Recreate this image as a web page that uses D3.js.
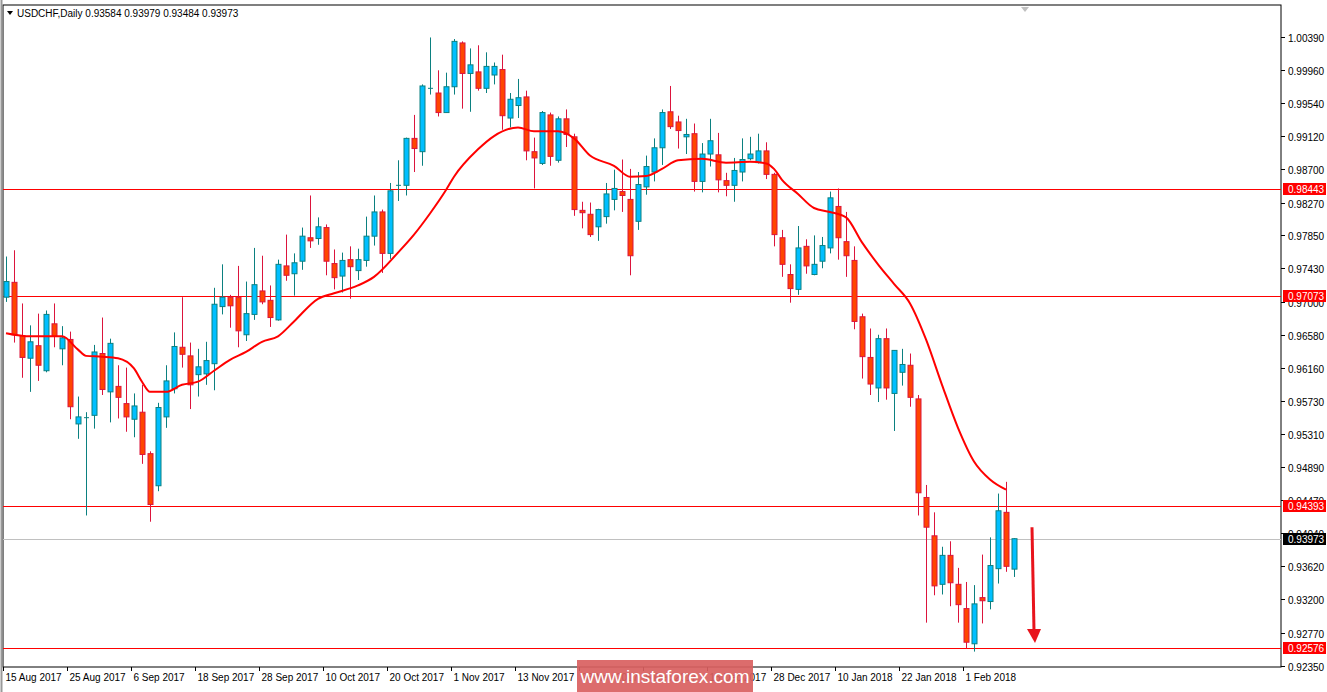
<!DOCTYPE html>
<html><head><meta charset="utf-8">
<script src="https://cdn.jsdelivr.net/npm/d3@7"></script>
<style>body{margin:0;background:#fff;}svg{display:block;font-family:"Liberation Sans",Arial,sans-serif;}</style>
</head><body>
<svg id="c" width="1327" height="692"></svg>
<script>
const opens=[.9706,.9725,.9657,.9628,.9644,.9612,.9672,.9640,.9652,.9544,.9552,.9555,.9634,.9585,.9592,.9570,.9550,.9559,.9506,.9465,.9553,.9589,.9642,.9631,.9607,.9608,.9621,.9694,.9706,.9706,.9658,.9684,.9714,.9702,.9677,.9746,.9736,.9752,.9782,.9781,.9795,.9749,.9733,.9754,.9740,.9753,.9784,.9815,.9762,.9849,.9849,.9909,.9892,.9973,.9967,.9942,.9975,1.0031,.9992,.9994,.9973,.9990,.9997,.9935,.9951,.9962,.9892,.9877,.9939,.9881,.9934,.9911,.9817,.9812,.9796,.9809,.9831,.9841,.9831,.9803,.9847,.9866,.9897,.9943,.9930,.9911,.9915,.9854,.9889,.9888,.9855,.9849,.9866,.9883,.9878,.9893,.9863,.9782,.9735,.9716,.9771,.9735,.9752,.9769,.9822,.9777,.9753,.9681,.9629,.9590,.9653,.9583,.9610,.9619,.9576,.9450,.9401,.9339,.9376,.9339,.9308,.9263,.9322,.9317,.9359,.9431,.93584];
const closes=[.9726,.9658,.9629,.9649,.9619,.9684,.9656,.9654,.9566,.9553,.9552,.9636,.9588,.9647,.9578,.9553,.9567,.9505,.9441,.9565,.9599,.9643,.9633,.9594,.9617,.9625,.9697,.9706,.9695,.9663,.9685,.9722,.9700,.9680,.9748,.9734,.9750,.9784,.9778,.9796,.9752,.9731,.9753,.9745,.9754,.9784,.9815,.9762,.9842,.9849,.9909,.9896,.9976,.9973,.9942,.9975,1.0033,.9992,1.0003,.9973,1.0001,1.0001,.9938,.9959,.9961,.9893,.9884,.9942,.9886,.9934,.9914,.9818,.9814,.9786,.9818,.9838,.9845,.9836,.9759,.9850,.9873,.9897,.9942,.9924,.9919,.9914,.9854,.9889,.9906,.9856,.9849,.9868,.9882,.9889,.9893,.9863,.9786,.9748,.9717,.9769,.9746,.9748,.9772,.9833,.9782,.9759,.9675,.9630,.9595,.9653,.9590,.9638,.9620,.9578,.9456,.9412,.9337,.9376,.9341,.9313,.9265,.9314,.9318,.9363,.9433,.9362,.93973];
const highs=[.9758,.9766,.9698,.9670,.9685,.9689,.9698,.9669,.9662,.9579,.9559,.9645,.9680,.9653,.9619,.9616,.9583,.9594,.9509,.9571,.9619,.9661,.9706,.9648,.9640,.9649,.9718,.9748,.9709,.9746,.9726,.9769,.9759,.9721,.9754,.9786,.9762,.9795,.9836,.9808,.9799,.9767,.9763,.9771,.9768,.9809,.9836,.9818,.9852,.9881,.9910,.9939,.9978,1.0038,.9996,.9993,1.0036,1.0033,1.0024,1.0028,1.0019,1.0006,1.0016,.9967,.9985,.9970,.9910,.9944,.9942,.9937,.9946,.9915,.9828,.9827,.9819,.9852,.9869,.9882,.9870,.9866,.9887,.9909,.9946,.9976,.9938,.9934,.9928,.9903,.9934,.9916,.9865,.9884,.9909,.9911,.9915,.9904,.9865,.9792,.9748,.9797,.9780,.9785,.9783,.9841,.9845,.9815,.9771,.9685,.9666,.9658,.9666,.9638,.9640,.9634,.9581,.9466,.9431,.9387,.9394,.9360,.9342,.9338,.9377,.9399,.9455,.9470,.93979];
const lows=[.9700,.9648,.9603,.9585,.9599,.9610,.9642,.9619,.9550,.9525,.9427,.9538,.9581,.9546,.9551,.9534,.9527,.9493,.9419,.9458,.9539,.9583,.9616,.9563,.9579,.9594,.9587,.9684,.9667,.9642,.9650,.9677,.9697,.9668,.9676,.9727,.9708,.9741,.9769,.9773,.9734,.9716,.9712,.9704,.9728,.9745,.9772,.9737,.9755,.9829,.9836,.9866,.9874,.9965,.9937,.9942,.9965,.9947,.9943,.9970,.9967,.9978,.9920,.9923,.9935,.9881,.9845,.9875,.9874,.9878,.9898,.9810,.9794,.9783,.9778,.9800,.9817,.9815,.9734,.9792,.9837,.9854,.9875,.9921,.9896,.9889,.9841,.9840,.9873,.9840,.9835,.9828,.9854,.9881,.9877,.9857,.9771,.9732,.9699,.9709,.9736,.9734,.9743,.9762,.9754,.9732,.9665,.9602,.9581,.9572,.9575,.9535,.9593,.9566,.9427,.9290,.9325,.9326,.9311,.9290,.9257,.9253,.9289,.9307,.9340,.9355,.93484];
const maIdx=[0,3,7,9,10,12,14,16,17,18,20,22,24,26,28,30,32,34,36,39,41,44,46,49,51,53,55,56,59,61,64,66,69,71,73,76,78,80,82,84,87,90,93,95,96,97,99,101,103,105,107,109,111,113,115,117,119,121,123,125];
const maVal=[.9660,.9656,.9656,.9639,.9631,.9630,.9628,.9615,.9598,.9585,.9585,.9594,.9598,.9612,.9626,.9636,.9649,.9656,.9675,.9704,.9711,.9721,.9732,.9763,.9786,.9813,.9843,.9860,.9895,.9912,.9923,.9918,.9918,.9909,.9887,.9874,.9860,.9861,.9870,.9881,.9883,.9878,.9879,.9877,.9870,.9856,.9838,.9820,.9815,.9808,.9776,.9748,.9723,.9698,.9652,.9594,.9539,.9496,.9473,.9460];
const tickVals=[1.00390,0.99960,0.99540,0.99120,0.98700,0.98270,0.97850,0.97430,0.97000,0.96580,0.96160,0.95730,0.95310,0.94890,0.94470,0.94040,0.93620,0.93200,0.92770,0.92350];
const levels=[0.98443,0.97073,0.94393,0.92576];
const lastPrice=0.93973;
const dateIdx=[0,8,16,24,32,40,48,56,64,72,80,88,96,104,112,120];
const dateLabels=["15 Aug 2017","25 Aug 2017","6 Sep 2017","18 Sep 2017","28 Sep 2017","10 Oct 2017","20 Oct 2017","1 Nov 2017","13 Nov 2017","23 Nov 2017","5 Dec 2017","15 Dec 2017","28 Dec 2017","10 Jan 2018","22 Jan 2018","1 Feb 2018"];

const svg=d3.select("#c");
const L=3,R=1281,T=5,B=667;
const x=d3.scaleLinear().domain([0,126]).range([6,1014]);
const y=d3.scaleLinear().domain([0.92576,0.98443]).range([648,189]);

svg.append("rect").attr("x",L).attr("y",T).attr("width",R-L).attr("height",B-T).attr("fill","#fff").attr("stroke","#000").attr("stroke-width",1);
svg.append("line").attr("x1",1.5).attr("x2",1.5).attr("y1",0).attr("y2",692).attr("stroke","#999").attr("stroke-width",2);

svg.append("line").attr("x1",L).attr("x2",R).attr("y1",Math.round(y(lastPrice))+.5).attr("y2",Math.round(y(lastPrice))+.5).attr("stroke","#c0c0c0");
levels.forEach(v=>svg.append("line").attr("x1",L).attr("x2",R).attr("y1",Math.round(y(v))+.5).attr("y2",Math.round(y(v))+.5).attr("stroke","#ff0000"));

const data=opens.map((o,i)=>({i,o,c:closes[i],h:highs[i],l:lows[i]}));
const g=svg.append("g");
data.forEach(d=>{
  const up=d.c>=d.o, cx=Math.round(x(d.i))+.5;
  const sc=up?"#0b8080":"#dc143c";
  g.append("line").attr("x1",cx).attr("x2",cx).attr("y1",y(d.h)).attr("y2",y(d.l)).attr("stroke",sc);
  const t=y(Math.max(d.o,d.c)), b=y(Math.min(d.o,d.c));
  if(b-t<1.5){g.append("line").attr("x1",cx-2.5).attr("x2",cx+2.5).attr("y1",t).attr("y2",t).attr("stroke",sc);}
  else g.append("rect").attr("x",cx-2.5).attr("y",t).attr("width",5).attr("height",b-t).attr("fill",up?"#00bfff":"#ff4500").attr("stroke",sc);
});
svg.append("path").datum(maIdx.map((v,k)=>[v,maVal[k]])).attr("fill","none").attr("stroke","#ff0000").attr("stroke-width",2)
 .attr("d",d3.line().x(d=>x(d[0])).y(d=>y(d[1])).curve(d3.curveMonotoneX));

const ax=1032, ay1=y(0.9412), ay2=y(0.9264);
svg.append("line").attr("x1",ax).attr("x2",ax+2).attr("y1",ay1).attr("y2",ay2-12).attr("stroke","#e8141c").attr("stroke-width",3);
svg.append("path").attr("d",`M${ax-5},${ay2-14} L${ax+9},${ay2-14} L${ax+3},${ay2} Z`).attr("fill","#e8141c");

tickVals.forEach(v=>{
  const yy=Math.round(y(v))+.5;
  svg.append("line").attr("x1",R).attr("x2",R+4).attr("y1",yy).attr("y2",yy).attr("stroke","#000");
  svg.append("text").attr("x",1288).attr("y",yy+4).attr("font-size",10).attr("fill","#000").text(v.toFixed(5));
});
function box(v,fill){
  const yy=Math.round(y(v));
  svg.append("rect").attr("x",1283).attr("y",yy-6).attr("width",43).attr("height",12).attr("fill",fill);
  svg.append("text").attr("x",1288).attr("y",yy+4).attr("font-size",10).attr("fill","#fff").text(v.toFixed(5));
}
levels.forEach(v=>box(v,"#ff0000"));
box(lastPrice,"#000");

dateIdx.forEach((ix,k)=>{
  const xx=Math.round(x(ix))-2.5;
  svg.append("line").attr("x1",xx).attr("x2",xx).attr("y1",B).attr("y2",B+4).attr("stroke","#000");
  svg.append("text").attr("x",xx+2).attr("y",681).attr("font-size",10).attr("fill","#000").text(dateLabels[k]);
});

svg.append("path").attr("d","M7,11 L13,11 L10,15 Z").attr("fill","#000");
svg.append("text").attr("x",17).attr("y",17).attr("font-size",10).attr("fill","#000")
 .text(`USDCHF,Daily  ${opens[126].toFixed(5)} ${highs[126].toFixed(5)} ${lows[126].toFixed(5)} ${closes[126].toFixed(5)}`);
svg.append("path").attr("d","M1021,7 L1029,7 L1025,12 Z").attr("fill","#c0c0c0");

svg.append("rect").attr("x",577).attr("y",660).attr("width",176).attr("height",32).attr("fill","#d95f60").attr("opacity",0.92);
svg.append("text").attr("x",665).attr("y",683).attr("text-anchor","middle").attr("font-size",19).attr("fill","#fff").text("www.instaforex.com");
</script>
</body></html>
